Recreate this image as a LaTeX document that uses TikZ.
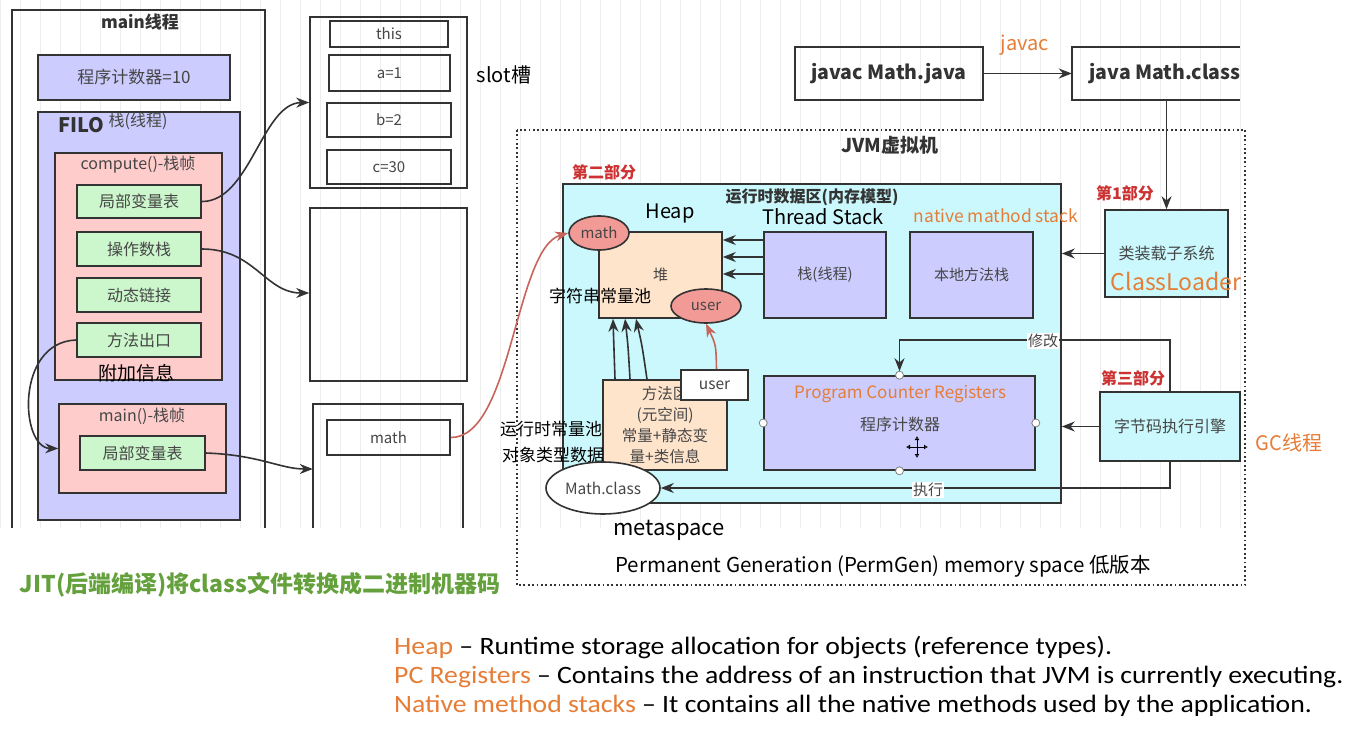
\documentclass[tikz,border=0pt]{standalone}
\usepackage{fontspec}
\setmainfont{Noto Sans CJK SC}
\newfontfamily\calib{Carlito}
\usetikzlibrary{arrows.meta,shapes.geometric,calc}
\definecolor{bd}{RGB}{51,51,51}
\definecolor{tx}{RGB}{70,70,70}
\definecolor{lav}{RGB}{204,204,255}
\definecolor{pinkf}{RGB}{255,204,204}
\definecolor{grn}{RGB}{204,246,204}
\definecolor{cyanf}{RGB}{202,248,252}
\definecolor{peach}{RGB}{255,228,204}
\definecolor{salmon}{RGB}{242,155,150}
\definecolor{org}{RGB}{230,125,55}
\definecolor{redl}{RGB}{205,50,50}
\definecolor{jitg}{RGB}{100,160,60}
\definecolor{redarr}{RGB}{200,100,90}
\definecolor{gridc}{RGB}{238,238,238}
\newcommand\fz[2]{\fontsize{#1}{#2}\selectfont}
\begin{document}
\begin{tikzpicture}[x=1pt,y=-1pt,
  box/.style={draw=bd,line width=1.6pt,inner sep=0pt,text=tx,anchor=center},
  frame/.style={draw=bd,line width=1.6pt},
  lbl/.style={inner sep=0pt,anchor=center},
  arr/.style={draw=bd,line width=1.6pt,-{Stealth[length=13pt,width=10pt]}},
  rarr/.style={draw=redarr,line width=1.6pt,-{Stealth[length=13pt,width=10pt]}},
  port/.style={circle,draw=gray,fill=white,line width=0.8pt,minimum size=8pt,inner sep=0pt},
  ell/.style={ellipse,draw=bd,line width=1.6pt,inner sep=0pt,text=tx},
  note/.style={anchor=west,inner sep=0pt,font=\calib\fz{25}{30}}]
\useasboundingbox (0,0) rectangle (1364,754);
\fill[white] (0,0) rectangle (1364,754);
\draw[gridc,line width=0.6pt,step=20] (0,0) grid (1240,528);

% ---------- main thread ----------
\node[inner sep=0pt,minimum width=253,minimum height=518] (mainT) at (138.5,269) {};
\draw[frame] (mainT.south west) |- (mainT.north east) -- (mainT.south east);
\node[lbl,font=\bfseries\fz{17}{20},text=bd] (mainTitle) at (140,22) {main线程};
\node[box,fill=lav,minimum width=192,minimum height=45,font=\fz{17}{20}] (pc10) at (134,77.5) {程序计数器=10};
\node[box,fill=lav,minimum width=202,minimum height=408] (filo) at (139,316) {};
\node[lbl,font=\bfseries\fz{20}{24},text=bd] (filoT) at (81,125) {FILO};
\node[lbl,font=\fz{16}{19},text=tx] (filoT2) at (138,121) {栈(线程)};
\node[box,fill=pinkf,minimum width=167,minimum height=227] (compute) at (138.5,266.5) {};
\node[lbl,font=\fz{16}{19},text=tx] (computeT) at (138,165) {compute()-栈帧};
\node[box,fill=grn,minimum width=124,minimum height=33,font=\fz{16}{19}] (g1) at (139,201.5) {局部变量表};
\node[box,fill=grn,minimum width=124,minimum height=34,font=\fz{16}{19}] (g2) at (139,249) {操作数栈};
\node[box,fill=grn,minimum width=124,minimum height=34,font=\fz{16}{19}] (g3) at (139,295) {动态链接};
\node[box,fill=grn,minimum width=124,minimum height=34,font=\fz{16}{19}] (g4) at (139,340) {方法出口};
\node[lbl,font=\fz{19}{22}] (fjxx) at (136,373) {附加信息};
\node[box,fill=pinkf,minimum width=167,minimum height=89] (mainF) at (142.5,448.5) {};
\node[lbl,font=\fz{16}{19},text=tx] (mainFT) at (142,416) {main()-栈帧};
\node[box,fill=grn,minimum width=125,minimum height=34,font=\fz{16}{19}] (g5) at (142.5,453) {局部变量表};

% ---------- middle column ----------
\node[box,minimum width=157,minimum height=171] (box1) at (388.5,102.5) {};
\node[box,minimum width=118,minimum height=26,font=\fz{15}{18}] (sthis) at (389,34) {this};
\node[box,minimum width=121,minimum height=36,font=\fz{15}{18}] (sa) at (389.5,73) {a=1};
\node[box,minimum width=124,minimum height=34,font=\fz{15}{18}] (sb) at (389,120) {b=2};
\node[box,minimum width=124,minimum height=34,font=\fz{15}{18}] (sc) at (389,167) {c=30};
\node[lbl,font=\fz{20}{24}] (slot) at (504,75) {slot槽};
\node[box,minimum width=157,minimum height=173] (box2) at (388.5,294.5) {};
\node[inner sep=0pt,minimum width=150,minimum height=124] (box3) at (388,466) {};
\draw[frame] (box3.south west) |- (box3.north east) -- (box3.south east);
\node[box,minimum width=123,minimum height=35,font=\fz{15}{18}] (mathref) at (388.5,437.5) {math};

% left connectors
\draw[arr] (g1.east) .. controls (250,202) and (262,103) .. (box1.west);
\draw[arr] (g2.east) .. controls (255,249) and (265,293) .. (box2.west |- 0,293);
\draw[arr] (g5.east) .. controls (260,455) and (280,469) .. (box3.west |- 0,469);
\draw[arr] (g4.west) .. controls (15,342) and (20,448) .. (mainF.west);

% ---------- JVM ----------
\node[inner sep=0pt,minimum width=728,minimum height=455] (jvm) at (881,357.5) {};
\draw[bd,line width=1.8pt,dash pattern=on 1.8pt off 2.6pt] (jvm.north west) rectangle (jvm.south east);
\node[lbl,font=\bfseries\fz{19}{22},text=bd] (jvmT) at (890,145) {JVM虚拟机};
\node[lbl,font=\bfseries\fz{16}{19},text=redl] (p2) at (604,172) {第二部分};
\node[box,fill=cyanf,minimum width=498,minimum height=319] (rtda) at (812,343.5) {};
\node[lbl,font=\bfseries\fz{16}{19},text=bd] (rtdaT) at (812,197) {运行时数据区(内存模型)};
\node[lbl,font=\fz{20}{24}] (heapT) at (670,213) {Heap};
\node[lbl,font=\fz{20}{24}] (tsT) at (823,217) {Thread Stack};
\node[lbl,font=\fz{17.4}{20},text=org] (nmsT) at (996,216) {native mathod stack};

\node[box,fill=peach,minimum width=123,minimum height=86,font=\fz{15}{18}] (heap) at (660.5,275) {堆};
\node[ell,fill=salmon,minimum width=60,minimum height=34,font=\fz{15}{18}] (mathE) at (599,233) {math};
\node[lbl,font=\fz{17}{20}] (zfc) at (600,296) {字符串常量池};
\node[ell,fill=salmon,minimum width=70,minimum height=34,font=\fz{15}{18}] (userE) at (706,306) {user};
\node[box,fill=lav,minimum width=122,minimum height=86,font=\fz{15}{18}] (stackT) at (825,275) {栈(线程)};
\node[box,fill=lav,minimum width=123,minimum height=86,font=\fz{15}{18}] (native) at (971.5,275) {本地方法栈};

\draw[arr] ([yshift=35]stackT.west) -- ([yshift=35]heap.east);
\draw[arr] ([yshift=18]stackT.west) -- ([yshift=18]heap.east);
\draw[arr] ([yshift=1]stackT.west) -- ([yshift=1]heap.east);

\node[box,fill=peach,minimum width=124,minimum height=90,align=center,font=\fz{15.5}{21}] (method) at (665,425) {方法区\\(元空间)\\常量+静态变\\量+类信息};
\draw[arr] ([xshift=-50]method.north) .. controls (614,350) .. ([xshift=-47.5]heap.south);
\draw[arr] ([xshift=-35]method.north) .. controls (628,345) .. ([xshift=-35.5]heap.south);
\draw[arr] ([xshift=-18]method.north) .. controls (642,345) .. ([xshift=-24.5]heap.south);
\node[box,fill=white,minimum width=67,minimum height=30,font=\fz{15.5}{18}] (userB) at (714.5,385) {user};
\draw[rarr] ([xshift=2]userB.north) .. controls (716,345) .. (userE.south);

\node[lbl,font=\fz{17}{20}] (yxsc) at (551,429) {运行时常量池};
\node[lbl,font=\fz{17}{20}] (dxlx) at (553,455) {对象类型数据};
\node[ell,fill=white,minimum width=114,minimum height=52,font=\fz{15.5}{18}] (mclass) at (603,488) {Math.class};
\node[lbl,font=\fz{22}{26}] (meta) at (669,530) {metaspace};
\node[lbl,font=\fz{20.5}{24}] (perm) at (883,566) {Permanent Generation (PermGen) memory space 低版本};

\draw[rarr] (mathref.east) .. controls (512,438) and (515,248) .. (mathE.west);

\node[box,fill=lav,minimum width=271,minimum height=94] (pc) at (899.5,423) {};
\node[lbl,font=\fz{17}{20},text=org] (pcT) at (900,394) {Program Counter Registers};
\node[lbl,font=\fz{16}{19},text=tx] (pcT2) at (900,424) {程序计数器};
% move cursor
\draw[line width=0.9pt,{Latex[open,length=4pt,width=5pt]}-{Latex[open,length=4pt,width=5pt]}] (906,447) -- (928,447);
\draw[line width=0.9pt,{Latex[open,length=4pt,width=5pt]}-{Latex[open,length=4pt,width=5pt]}] (917,436) -- (917,458);

% ---------- right ----------
\node[box,minimum width=188,minimum height=53,font=\bfseries\fz{19.5}{23},text=bd] (javac) at (889,73.5) {javac Math.java};
\node[inner sep=0pt,minimum width=168,minimum height=53] (javacls) at (1156,73.5) {};
\node[lbl,font=\bfseries\fz{19.5}{23},text=bd] (javaclsT) at (1165,73.5) {java Math.class};
\draw[frame] (javacls.north east) -| (javacls.south west) -- (javacls.south east);
\draw[arr] (javac.east) -- (javacls.west);
\node[lbl,font=\fz{20}{24},text=org] (javacT) at (1025,45) {javac};

\node[box,fill=cyanf,minimum width=123,minimum height=87,font=\fz{16}{19}] (cl) at (1166.5,253.5) {类装载子系统};
\node[lbl,font=\fz{23}{27},text=org] (clT) at (1176,281) {ClassLoader};
\node[lbl,font=\bfseries\fz{16}{19},text=redl] (p1) at (1125,193) {第1部分};
\draw[arr] (cl.north |- javacls.south) -- (cl.north);
\draw[arr] (cl.west) -- (cl.west -| rtda.east);

\node[box,fill=cyanf,minimum width=140,minimum height=69,font=\fz{16}{19}] (engine) at (1170,426.5) {字节码执行引擎};
\node[lbl,font=\bfseries\fz{16}{19},text=redl] (p3) at (1133,378) {第三部分};
\node[lbl,font=\fz{20}{24},text=org] (gc) at (1289,443) {GC线程};
\draw[arr] (engine.west) -- (engine.west -| rtda.east);

\coordinate (mk) at (1170,340);
\draw[arr] (engine.north) -- (mk) -| ([yshift=4]pc.north);
\node[lbl,fill=white,inner sep=1pt,font=\fz{15}{18},text=tx] (xg) at (1043,341) {修改};
\coordinate (zx) at (1170,488);
\draw[arr] (engine.south) -- (zx) -- (mclass.east);
\node[lbl,fill=white,inner sep=1pt,font=\fz{15}{18},text=tx] (zxT) at (928,490) {执行};

\node[port] (pn) at (pc.north) {};
\node[port] (ps) at (pc.south) {};
\node[port] (pw) at (pc.west) {};
\node[port] (pe) at (pc.east) {};

% ---------- bottom texts ----------
\node[lbl,font=\bfseries\fz{23}{27},text=jitg] (jit) at (260,585) {JIT(后端编译)将class文件转换成二进制机器码};
\node[note] (l1) at (394,647) {\scalebox{1.11}[1]{\textcolor{org}{Heap} – Runtime storage allocation for objects (reference types).}};
\node[note] (l2) at (394,677) {\scalebox{1.11}[1]{\textcolor{org}{PC Registers} – Contains the address of an instruction that JVM is currently executing.}};
\node[note] (l3) at (394,706) {\scalebox{1.11}[1]{\textcolor{org}{Native method stacks} – It contains all the native methods used by the application.}};
\end{tikzpicture}
\end{document}
